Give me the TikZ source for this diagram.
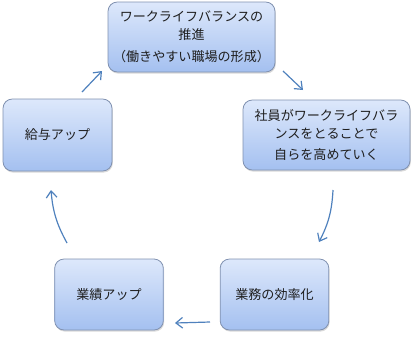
\documentclass[tikz,border=0pt]{standalone}
\usepackage{fontspec}
\newfontfamily\jp{Noto Sans CJK JP}
\usetikzlibrary{shadows,arrows.meta,calc}
\definecolor{boxtop}{RGB}{221,232,251}
\definecolor{boxbot}{RGB}{164,192,240}
\definecolor{boxline}{RGB}{128,145,176}
\definecolor{arr}{RGB}{79,129,189}
\definecolor{txt}{RGB}{30,30,30}
\tikzset{
  cyclebox/.style={rounded corners=7pt, draw=boxline, line width=0.6pt,
    top color=boxtop, bottom color=boxbot, align=center, text=txt,
    font=\jp\fontsize{9.8}{13.5}\selectfont,
    drop shadow={opacity=0.3, shadow xshift=0.6pt, shadow yshift=-1.2pt}},
  cyclearrow/.style={draw=arr, line width=0.9pt, -{Straight Barb[length=5pt,width=8pt]}}
}
\begin{document}
\begin{tikzpicture}[x=0.75pt,y=-0.75pt]
\useasboundingbox (0,0) rectangle (413,336);
\node[cyclebox, minimum width=125.25pt, minimum height=52.5pt] (top) at (191.5,37)
  {ワークライフバランスの\\推進\\[3pt]（働きやすい職場の形成）};
\node[cyclebox, minimum width=125.25pt, minimum height=52.5pt] (right) at (326.5,135)
  {社員がワークライフバラ\\ンスをとることで\\[2pt]自らを高めていく};
\node[cyclebox, minimum width=81.75pt, minimum height=54pt] (left) at (57.5,135) {給与アップ};
\node[cyclebox, minimum width=81.5pt, minimum height=53.25pt] (bl) at (109,294.5) {業績アップ};
\node[cyclebox, minimum width=81.5pt, minimum height=53.25pt] (br) at (274.5,294.5) {業務の効率化};
\coordinate (a1s) at (283,71);  \coordinate (a1e) at (303,90);
\coordinate (a2s) at (333,190); \coordinate (a2e) at (319,242);
\coordinate (a3s) at (210,322); \coordinate (a3e) at (175,323);
\coordinate (a4s) at (67,243);  \coordinate (a4e) at (51,190);
\coordinate (a5s) at (82,92);   \coordinate (a5e) at (102,71);
\draw[cyclearrow] (a1s) -- (a1e);
\draw[cyclearrow] (a2s) to[bend left=12] (a2e);
\draw[cyclearrow] (a3s) -- (a3e);
\draw[cyclearrow] (a4s) to[bend left=12] (a4e);
\draw[cyclearrow] (a5s) -- (a5e);
\end{tikzpicture}
\end{document}
